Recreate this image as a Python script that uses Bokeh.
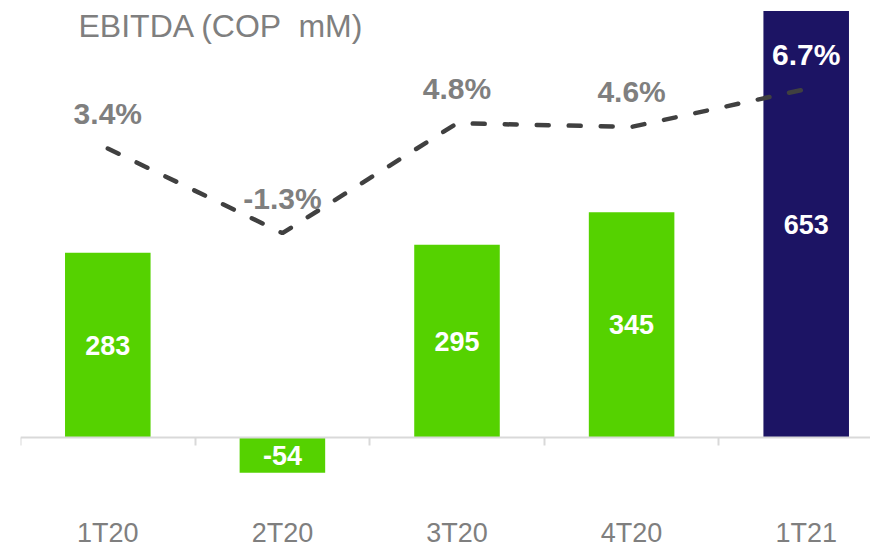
from bokeh.plotting import figure
from bokeh.models import Range1d, LinearAxis, FixedTicker, ColumnDataSource, Label, Grid
from bokeh.embed import file_html
from bokeh.resources import INLINE
from bokeh.core.properties import value

# ---- data ----
categories = ["1T20", "2T20", "3T20", "4T20", "1T21"]
ebitda = [283, -54, 295, 345, 653]
margin_pct = [3.4, -1.3, 4.8, 4.6, 6.7]
title_text = "EBITDA (COP  mM)"

# ---- styles ----
GREEN = "#55d200"
NAVY = "#1c1464"
GRAY = "#7f7f7f"
LINE = "#404040"
AXIS = "#d9d9d9"
FONT = "Liberation Sans"

FIG_W, FIG_H = 870, 548
LEFT = 20
CAT_PX = 174.6        # pixels per category
ZERO_PX = 437.0       # px from top of figure where EBITDA = 0
BAR_PX = 0.653        # px per EBITDA unit
PCT_ZERO_PX = 209.2   # px from top where margin = 0 %
PCT_PX = 18.0         # px per margin point

x = list(range(len(categories)))
frame_w = FIG_W - LEFT
x_range = Range1d(-0.5, -0.5 + frame_w / CAT_PX)
y_range = Range1d(-(FIG_H - ZERO_PX) / BAR_PX, ZERO_PX / BAR_PX)
pct_range = Range1d(-(FIG_H - PCT_ZERO_PX) / PCT_PX, PCT_ZERO_PX / PCT_PX)

bar_colors = [GREEN] * (len(categories) - 1) + [NAVY]
pct_colors = [GRAY] * (len(categories) - 1) + ["white"]

src = ColumnDataSource(dict(
    x=x,
    cat=categories,
    ebitda=ebitda,
    mid=[v / 2 for v in ebitda],
    bar_label=[str(v) for v in ebitda],
    pct=margin_pct,
    pct_label=[f"{v:.1f}%" for v in margin_pct],
    bar_color=bar_colors,
    pct_color=pct_colors,
))

p = figure(width=FIG_W, height=FIG_H, x_range=x_range, y_range=y_range,
           output_backend="svg", toolbar_location=None,
           x_axis_location=None, y_axis_location=None,
           min_border_left=LEFT, min_border_right=0,
           min_border_top=0, min_border_bottom=0)
p.outline_line_color = None
p.background_fill_color = "white"
p.border_fill_color = "white"
for r in list(p.center):
    if isinstance(r, Grid):
        r.visible = False
p.extra_y_ranges = {"pct": pct_range}

# bars
p.vbar(x="x", top="ebitda", bottom=0, width=0.49, fill_color="bar_color",
       line_color=None, source=src)

# bar value labels
p.text(x="x", y="mid", text="bar_label", source=src,
       text_font=value(FONT), text_font_size="27px", text_font_style="bold",
       text_color="white", text_align="center", text_baseline="middle")

# margin line
p.line(x="x", y="pct", source=src, y_range_name="pct",
       line_color=LINE, line_width=4.5, line_dash="12 20", line_cap="round")

# margin labels
p.text(x="x", y="pct", text="pct_label", source=src, y_range_name="pct",
       y_offset=-35,
       text_font=value(FONT), text_font_size="30px", text_font_style="bold",
       text_color="pct_color", text_align="center", text_baseline="middle")

# category axis sitting on zero
ax = LinearAxis(fixed_location=0,
                ticker=FixedTicker(ticks=x, minor_ticks=[i - 0.5 for i in range(len(categories) + 1)]))
ax.major_label_overrides = {i: c for i, c in enumerate(categories)}
ax.major_tick_line_color = None
ax.major_tick_out = 0
ax.major_tick_in = 0
ax.minor_tick_line_color = AXIS
ax.minor_tick_line_width = 2
ax.minor_tick_out = 8
ax.minor_tick_in = 0
ax.axis_line_color = AXIS
ax.axis_line_width = 2
ax.major_label_standoff = 72
ax.major_label_text_font = FONT
ax.major_label_text_font_size = "27px"
ax.major_label_text_color = GRAY
p.add_layout(ax, "below")

# title text (keep the double space visible in SVG)
p.add_layout(Label(x=58, y=523, x_units="screen", y_units="screen",
                   text=title_text.replace("  ", " \u00a0"), text_font=FONT,
                   text_font_size="32px", text_color=GRAY,
                   text_baseline="alphabetic"))

open("out.html", "w").write(file_html(p, INLINE))
